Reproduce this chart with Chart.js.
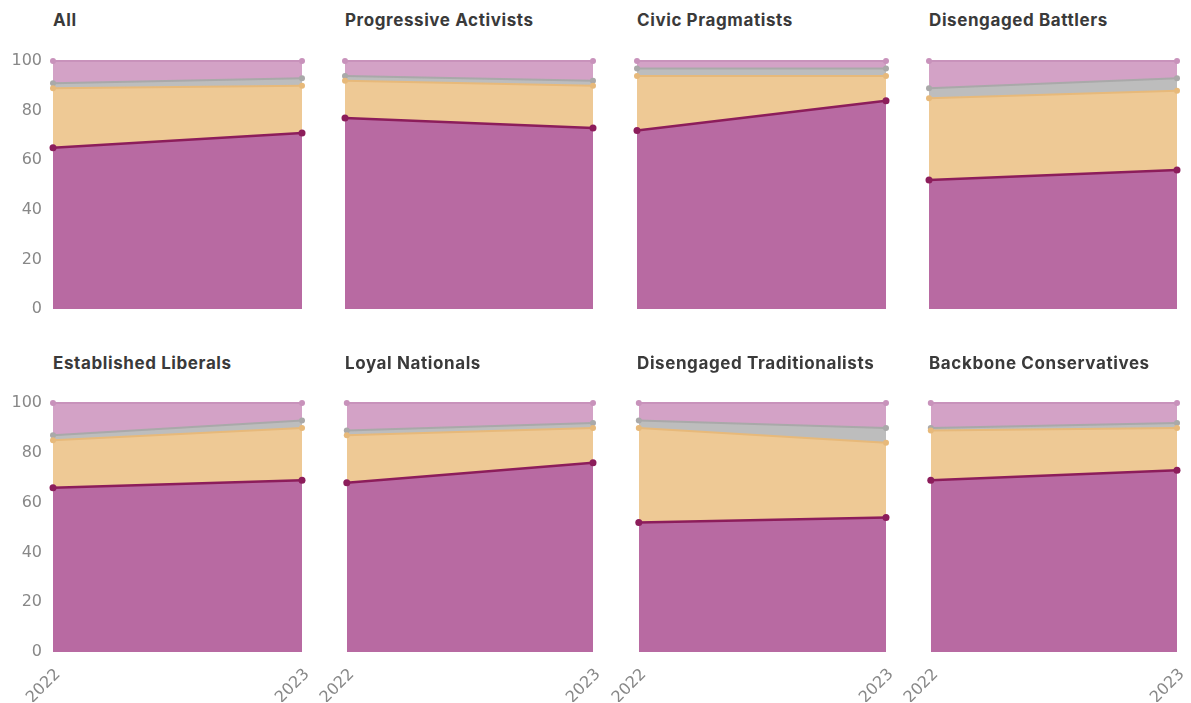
<!DOCTYPE html>
<html>
<head>
<meta charset="utf-8">
<script src="https://cdn.jsdelivr.net/npm/chart.js@4.4.1/dist/chart.umd.min.js"></script>
<style>
    body { margin: 0; background: #fff; width: 1191px; height: 703px; overflow: hidden; position: relative; font-family: "Inter", "Noto Sans", sans-serif; }
    .panel { position: absolute; }
    .title { position: absolute; font-weight: 700; font-size: 17px; letter-spacing: 0.6px; color: #3a3a3a; line-height: 18px; white-space: nowrap; }
</style>
</head>
<body>
<script>
const years = ["2022", "2023"];
const panelNames = ["All", "Progressive Activists", "Civic Pragmatists", "Disengaged Battlers",
    "Established Liberals", "Loyal Nationals", "Disengaged Traditionalists", "Backbone Conservatives"];

// bottom (dark purple) band
const shareA = [[65, 71], [77, 73], [72, 84], [52, 56], [66, 69], [68, 76], [52, 54], [69, 73]];
// orange band
const shareB = [[24, 19], [15, 17], [22, 10], [33, 32], [19, 21], [19, 14], [38, 30], [20, 17]];
// grey band
const shareC = [[2, 3], [2, 2], [3, 3], [4, 5], [2, 3], [2, 2], [3, 6], [1, 2]];
// top (light purple) band
const shareD = [[9, 7], [6, 8], [3, 3], [11, 7], [13, 7], [11, 8], [7, 10], [10, 8]];

const yTicks = [0, 20, 40, 60, 80, 100];

const fills = ["#b86aa2", "#eec995", "#bdbdbd", "#d3a2c6"];
const lines = ["#8c1d5b", "#e7b97a", "#a9a9a9", "#c892bb"];

const plotLeft = [53, 345, 637, 929];
const plotRight = [302, 593, 886, 1177];
const plotTop = [61, 403];
const plotBottom = [309, 652];
const titleTop = [11, 354];

function makeDataset(values, idx) {
    return {
        data: values,
        backgroundColor: fills[idx],
        borderColor: lines[idx],
        borderWidth: idx === 0 ? 2.5 : 2,
        pointRadius: idx === 0 ? 3.5 : 3,
        pointBackgroundColor: lines[idx],
        pointBorderWidth: 0,
        fill: idx === 0 ? "origin" : "-1",
        tension: 0,
        clip: false
    };
}

function createPanel(i) {
    const row = Math.floor(i / 4);
    const col = i % 4;

    const padL = col === 0 ? 0 : 40;
    const padR = 30;
    const padT = 26;
    const padB = row === 0 ? 26 : 0;
    const xAxisH = 50;

    const left = col === 0 ? 0 : plotLeft[col] - padL;
    const yAxisW = col === 0 ? plotLeft[0] : 0;
    const width = plotRight[col] - left + padR;
    const height = plotBottom[row] - plotTop[row] + padT + (row === 0 ? padB : xAxisH);

    const title = document.createElement("div");
    title.className = "title";
    title.style.left = plotLeft[col] + "px";
    title.style.top = titleTop[row] + "px";
    title.innerText = panelNames[i];
    document.body.appendChild(title);

    const box = document.createElement("div");
    box.className = "panel";
    box.style.left = left + "px";
    box.style.top = (plotTop[row] - padT) + "px";
    const canvas = document.createElement("canvas");
    canvas.width = width;
    canvas.height = height;
    box.appendChild(canvas);
    document.body.appendChild(box);

    new Chart(canvas.getContext("2d"), {
        type: "line",
        data: {
            labels: years,
            datasets: [
                makeDataset(shareA[i], 0),
                makeDataset(shareB[i], 1),
                makeDataset(shareC[i], 2),
                makeDataset(shareD[i], 3)
            ]
        },
        options: {
            responsive: false,
            animation: false,
            layout: { padding: { left: padL, right: padR, top: padT, bottom: padB } },
            plugins: { legend: { display: false }, tooltip: { enabled: false } },
            scales: {
                x: {
                    display: row === 1,
                    offset: false,
                    grid: { display: false, drawTicks: false },
                    border: { display: false },
                    ticks: {
                        minRotation: 45, maxRotation: 45, padding: 13, labelOffset: 5,
                        color: "#888", font: { family: "DejaVu Sans", size: 16 }
                    },
                    afterFit: function (scale) { if (row === 1) scale.height = xAxisH; }
                },
                y: {
                    display: col === 0,
                    stacked: true,
                    min: 0,
                    max: 100,
                    afterBuildTicks: function (scale) { scale.ticks = yTicks.map(v => ({ value: v })); },
                    grid: { display: false, drawTicks: false },
                    border: { display: false },
                    ticks: { padding: 11, color: "#888", font: { family: "DejaVu Sans", size: 16 } },
                    afterFit: function (scale) { scale.width = yAxisW; }
                }
            }
        }
    });
}

for (let i = 0; i < panelNames.length; i++) {
    createPanel(i);
}
</script>
</body>
</html>
